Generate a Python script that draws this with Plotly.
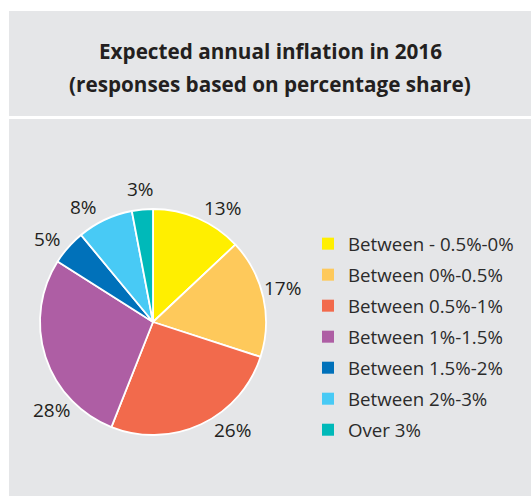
import math
import plotly.graph_objects as go

# Survey answers: expected annual inflation for 2016 (share of responses, %)
categories = [
    "Between - 0.5%-0%",
    "Between 0%-0.5%",
    "Between 0.5%-1%",
    "Between 1%-1.5%",
    "Between 1.5%-2%",
    "Between 2%-3%",
    "Over 3%",
]
shares = [13, 17, 26, 28, 5, 8, 3]
colors = ["#FFEF00", "#FEC95B", "#F26A4C", "#AE5EA4", "#0071BA", "#48CAF5", "#00B9B9"]
title_lines = ["Expected annual inflation in 2016", "(responses based on percentage share)"]

W, H = 531, 496
PANEL = "#E5E6E8"
TEXT = "#231F20"
FONT = "Open Sans"

# pie geometry in pixels
cx, cy, r = 153, 322, 113
# outside value labels: distance from centre and small angular nudges (deg)
label_r = 134
label_nudge = [8, -2, -11, -23, -3, -6, 0]


def px(x):
    return x / W


def py(y):
    return 1 - y / H


fig = go.Figure()

fig.add_trace(go.Pie(
    labels=categories,
    values=shares,
    sort=False,
    direction="clockwise",
    rotation=0,
    marker=dict(colors=colors, line=dict(color="white", width=1.8)),
    textinfo="none",
    hoverinfo="label+percent",
    showlegend=False,
    domain=dict(x=[px(cx - r), px(cx + r)], y=[py(cy + r), py(cy - r)]),
))

# legend entries as square swatches
for name, col in zip(categories, colors):
    fig.add_trace(go.Scatter(
        x=[None], y=[None], mode="markers", name=name, legendgroup=name,
        marker=dict(symbol="square", size=12, color=col, line=dict(width=0)),
        hoverinfo="skip",
    ))

# value labels placed around the pie from the cumulative shares
annotations = []
total = sum(shares)
cum = 0
for v, nudge in zip(shares, label_nudge):
    mid = (cum + v / 2) / total * 360 + nudge
    cum += v
    a = math.radians(mid)
    lx = cx + label_r * math.sin(a)
    ly = cy - label_r * math.cos(a)
    annotations.append(dict(
        x=px(lx), y=py(ly), xref="paper", yref="paper",
        text=f"{v}%", showarrow=False, xanchor="center", yanchor="middle",
        font=dict(family=FONT, size=19, color=TEXT),
    ))

for text, ty in zip(title_lines, [51, 84]):
    annotations.append(dict(
        x=px(270), y=py(ty), xref="paper", yref="paper",
        text=f"<b>{text}</b>", showarrow=False, xanchor="center", yanchor="middle",
        font=dict(family=FONT, size=20.7, color=TEXT),
    ))

shapes = [
    dict(type="rect", xref="paper", yref="paper", x0=px(9), x1=1, y0=py(116), y1=py(11),
         fillcolor=PANEL, line=dict(width=0), layer="below"),
    dict(type="rect", xref="paper", yref="paper", x0=px(9), x1=1, y0=0, y1=py(119),
         fillcolor=PANEL, line=dict(width=0), layer="below"),
]

fig.update_layout(
    width=W, height=H,
    margin=dict(l=0, r=0, t=0, b=0),
    paper_bgcolor="white",
    plot_bgcolor="rgba(0,0,0,0)",
    xaxis=dict(visible=False),
    yaxis=dict(visible=False),
    shapes=shapes,
    annotations=annotations,
    showlegend=True,
    legend=dict(
        x=px(308), y=py(225), xanchor="left", yanchor="top",
        bgcolor="rgba(0,0,0,0)", tracegroupgap=3.7,
        font=dict(family=FONT, size=18.7, color="#2B2B2B"),
    ),
)

fig.write_html("out.html")
